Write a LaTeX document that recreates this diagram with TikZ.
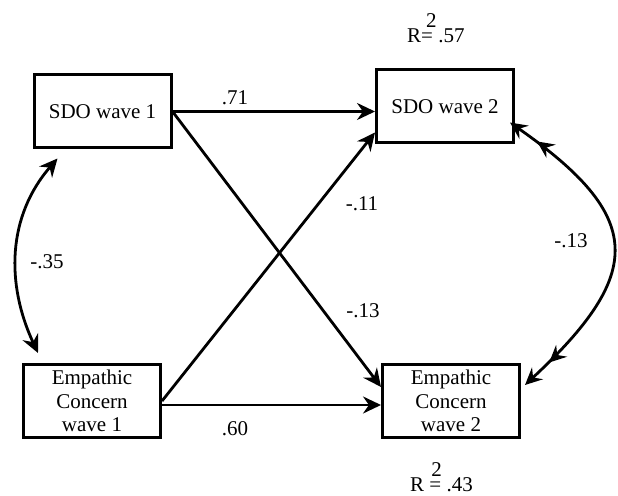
\documentclass[tikz,border=0pt]{standalone}
\usepackage{fontspec}
\setmainfont{Liberation Serif}
\usetikzlibrary{positioning,arrows.meta}

\begin{document}
\begin{tikzpicture}[
  x=1pt, y=1pt,
  >={Stealth[length=18pt,width=17pt,inset=6pt]},
  box/.style={draw, line width=3pt, minimum width=137pt, minimum height=73pt, align=center, inner sep=2pt, font=\fontsize{21}{23.5}\selectfont},
  effect/.style={->, line width=2.8pt},
  coef/.style={font=\fontsize{21}{24}\selectfont, inner sep=0pt},
  cov/.style={<->, line width=2.8pt},
  dblcov/.style={line width=2.8pt,
    {Stealth[length=17pt,width=16pt,inset=6pt]Stealth[length=17pt,width=16pt,inset=6pt,sep=16pt]}-{Stealth[length=17pt,width=16pt,inset=6pt,sep=16pt]Stealth[length=17pt,width=16pt,inset=6pt]}}
]
  \useasboundingbox (0,0) rectangle (618,495);

  % the four measures
  \node[box] (sdo1) at (102.5,383.5) {SDO wave 1};
  \node[box] (sdo2) at (445,388.5) {SDO wave 2};
  \node[box] (ec1) at (92,94) {Empathic\\Concern\\wave 1};
  \node[box] (ec2) at (451,94) {Empathic\\Concern\\wave 2};

  % paths
  \draw[effect] (sdo1.east) -- (sdo1.east -| sdo2.west);
  \draw[effect] (sdo1.east) -- ([yshift=14pt]ec2.west);
  \draw[effect] (ec1.east) -- ([yshift=-26pt]sdo2.west);
  \draw[effect] ([yshift=-4pt]ec1.east) -- ([yshift=-4pt]ec1.east -| ec2.west);

  % covariances
  \draw[cov] ([xshift=25pt,yshift=-9pt]sdo1.south west) to[out=229,in=115] ([xshift=16pt,yshift=10pt]ec1.north west);
  \draw[dblcov] ([xshift=-5pt,yshift=-16pt]sdo2.east) to[out=-35,in=43,looseness=1.6] ([xshift=4pt,yshift=16pt]ec2.east);

  % coefficients
  \node[coef] (b71) at (235,397) {.71};
  \node[coef] (b11) at (362,291) {-.11};
  \node[coef] (b13) at (363,184) {-.13};
  \node[coef] (b60) at (235,66) {.60};
  \node[coef] (r35) at (47,233) {-.35};
  \node[coef] (r13) at (571,254) {-.13};

  \node[coef, anchor=base west] (rsqtop) at (407,452) {R\rlap{\hspace{5pt}\raisebox{15pt}{2}}= .57};
  \node[coef, anchor=base west] (rsqbot) at (410,4) {R \rlap{\hspace{2pt}\raisebox{15pt}{2}}= .43};
\end{tikzpicture}
\end{document}
